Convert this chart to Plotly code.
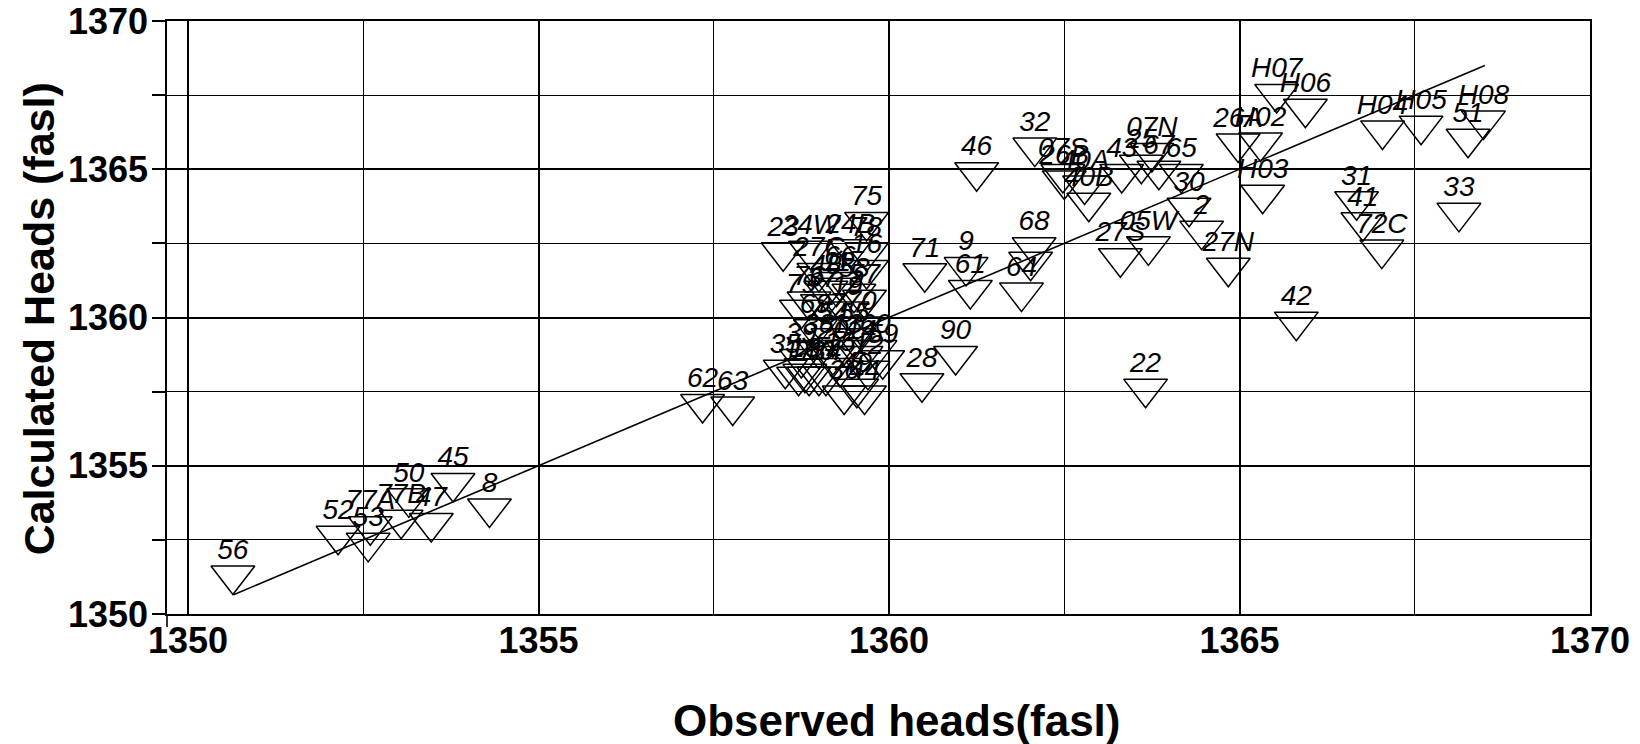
import plotly.graph_objects as go

# ---- data ----
labels = [
    "56", "52", "53", "77A", "77B", "47", "50", "45", "8",
    "62", "63", "28", "90", "71", "9", "61", "46", "68", "64", "",
    "32", "07S", "26B", "40A", "40B", "43", "07N", "25", "67", "65",
    "30", "05W", "27S", "2", "27N", "26A", "H02", "H03", "H07", "H06",
    "H04", "H05", "H08", "51", "33", "31", "41", "72C", "42", "22",
    "75", "23", "24W", "24B", "78", "27C", "16",
    "76", "79", "19", "48", "58", "11", "57", "37",
    "35", "39", "59", "38", "18", "20", "13", "14", "15", "12", "10",
    "17", "21", "34", "36", "44", "49", "54", "55", "60", "66", "69", "70",
]
observed = [
    1350.64, 1352.14, 1352.57, 1352.60, 1353.04, 1353.47, 1353.15, 1353.78, 1354.30,
    1357.34, 1357.77, 1360.47, 1360.95, 1360.51, 1361.10, 1361.16, 1361.25, 1362.07, 1361.89, 1362.02,
    1362.08, 1362.48, 1362.50, 1362.79, 1362.85, 1363.32, 1363.75, 1363.60, 1363.85, 1364.17,
    1364.28, 1363.70, 1363.30, 1364.46, 1364.84, 1364.98, 1365.30, 1365.33, 1365.53, 1365.94,
    1367.04, 1367.59, 1368.48, 1368.26, 1368.13, 1366.67, 1366.76, 1367.03, 1365.81, 1363.66,
    1359.68, 1358.49, 1358.88, 1359.45, 1359.68, 1359.00, 1359.68,
    1358.86, 1358.75, 1359.40, 1359.10, 1359.50, 1359.25, 1359.65, 1359.05,
    1358.52, 1358.75, 1359.91, 1359.00, 1358.80, 1359.20, 1359.40, 1359.60, 1359.30, 1359.70, 1359.00,
    1358.71, 1358.86, 1359.10, 1359.36, 1359.65, 1359.54, 1359.20, 1359.50, 1359.80, 1359.30, 1358.95, 1359.60,
]
calculated = [
    1351.30, 1352.64, 1352.40, 1352.96, 1353.18, 1353.07, 1353.90, 1354.42, 1353.56,
    1357.08, 1357.00, 1357.78, 1358.70, 1361.49, 1361.70, 1360.93, 1364.90, 1362.37, 1360.84, 1361.88,
    1365.73, 1364.84, 1364.62, 1364.45, 1363.87, 1364.84, 1365.55, 1365.15, 1364.95, 1364.84,
    1363.70, 1362.40, 1362.00, 1362.93, 1361.68, 1365.87, 1365.90, 1364.14, 1367.54, 1367.04,
    1366.31, 1366.47, 1366.64, 1366.03, 1363.53, 1363.92, 1363.21, 1362.29, 1359.86, 1357.60,
    1363.22, 1362.20, 1362.25, 1362.30, 1362.20, 1361.50, 1361.60,
    1360.54, 1360.26, 1360.20, 1360.90, 1360.80, 1361.00, 1360.60, 1360.45,
    1358.24, 1358.60, 1358.56, 1358.90, 1358.10, 1358.70, 1358.90, 1358.70, 1358.30, 1358.20, 1358.00,
    1358.00, 1358.00, 1358.00, 1357.37, 1357.37, 1357.60, 1359.30, 1359.30, 1358.90, 1361.20, 1359.60, 1359.70,
]
fit_x = [1350.65, 1368.5]
fit_y = [1350.65, 1368.5]

x_ticks = [1350, 1355, 1360, 1365, 1370]
y_ticks = [1350, 1355, 1360, 1365, 1370]

FONT = "Liberation Sans, Arial, Helvetica, sans-serif"

fig = go.Figure()
fig.add_trace(go.Scatter(
    x=fit_x, y=fit_y, mode="lines",
    line=dict(color="black", width=1.6), hoverinfo="skip", showlegend=False,
))
# open triangle markers
fig.add_trace(go.Scatter(
    x=observed, y=calculated, mode="markers",
    marker=dict(symbol="triangle-down-open", size=38, color="black",
                line=dict(color="black", width=1.5)),
    showlegend=False, cliponaxis=False,
))
# well labels (small invisible marker so the text sits just above the triangle)
fig.add_trace(go.Scatter(
    x=observed, y=calculated, mode="markers+text", text=labels,
    textposition="top center",
    textfont=dict(family=FONT, size=28, color="black", style="italic"),
    marker=dict(size=14, color="rgba(0,0,0,0)"),
    showlegend=False, cliponaxis=False, hoverinfo="skip",
))

fig.update_layout(
    width=1640, height=744,
    margin=dict(l=167, r=50, t=21, b=130, autoexpand=False),
    paper_bgcolor="white", plot_bgcolor="white",
    font=dict(family=FONT, color="black"),
    xaxis=dict(
        range=[1349.7, 1370], tickvals=x_ticks, ticktext=[str(v) for v in x_ticks],
        tickfont=dict(family=FONT, size=36, weight="bold"),
        showgrid=True, gridcolor="black", gridwidth=1.6,
        minor=dict(dtick=2.5, tick0=1350, showgrid=True, gridcolor="black", gridwidth=1.2),
        showline=True, mirror=True, linecolor="black", linewidth=1.6,
        ticks="", ticklen=0, ticklabelstandoff=-6, zeroline=False, automargin=False,
    ),
    yaxis=dict(
        range=[1350, 1370], tickvals=y_ticks, ticktext=[str(v) for v in y_ticks],
        tickfont=dict(family=FONT, size=36, weight="bold"),
        showgrid=True, gridcolor="black", gridwidth=1.6,
        minor=dict(dtick=2.5, tick0=1350, showgrid=True, gridcolor="black", gridwidth=1.2,
                   ticks="outside", ticklen=13, tickcolor="black", tickwidth=1.5),
        showline=True, mirror=True, linecolor="black", linewidth=1.6,
        ticks="outside", ticklen=13, tickcolor="black", tickwidth=1.5, zeroline=False,
        ticklabelstandoff=-3, automargin=False,
    ),
    annotations=[
        dict(text="Calculated Heads (fasl)", xref="paper", yref="paper",
             x=-0.0899, y=0.497, xanchor="center", yanchor="middle", textangle=-90,
             showarrow=False, font=dict(family=FONT, size=43, weight="bold")),
        dict(text="Observed heads(fasl)", xref="paper", yref="paper",
             x=0.513, y=-0.179, xanchor="center", yanchor="middle",
             showarrow=False, font=dict(family=FONT, size=44, weight="bold")),
    ],
    shapes=[
        dict(type="line", xref="paper", yref="paper", x0=0, x1=0, y0=-0.022, y1=0,
             line=dict(color="black", width=1.6)),
    ],
)

fig.write_html("out.html")
